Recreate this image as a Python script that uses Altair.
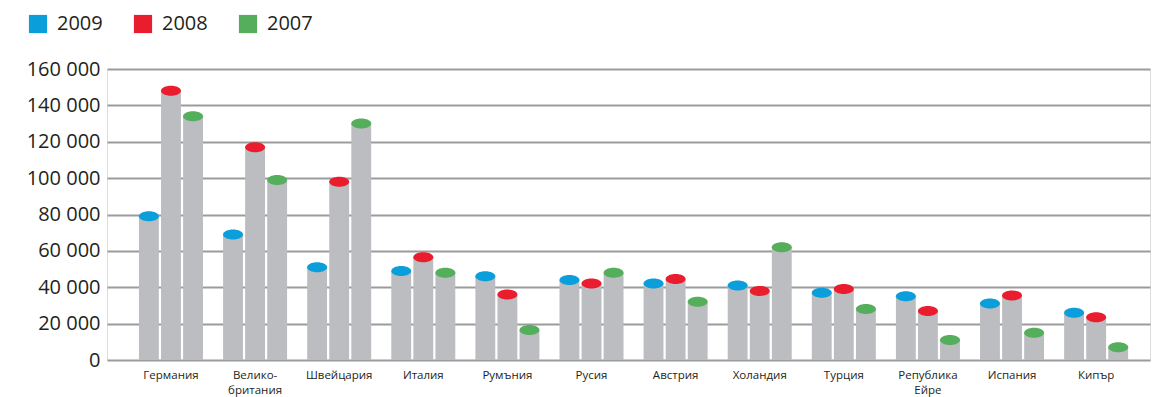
import altair as alt
import pandas as pd

categories = ["Германия", "Велико-|британия", "Швейцария", "Италия", "Румъния", "Русия",
              "Австрия", "Холандия", "Турция", "Република|Ейре", "Испания", "Кипър"]
v2009 = [79000, 69000, 51000, 49000, 46000, 44000, 42000, 41000, 37000, 35000, 31000, 26000]
v2008 = [148000, 117000, 98000, 56500, 36000, 42000, 44500, 38000, 39000, 27000, 35500, 23500]
v2007 = [134000, 99000, 130000, 48000, 16500, 48000, 32000, 62000, 28000, 11000, 15000, 7000]
years = ["2009", "2008", "2007"]
colors = ["#0a9fdb", "#e91d2d", "#55ae5c"]
y_ticks = [0, 20000, 40000, 60000, 80000, 100000, 120000, 140000, 160000]

rows = []
for i, c in enumerate(categories):
    for y, vals in zip(years, [v2009, v2008, v2007]):
        rows.append({"country": c, "year": y, "value": vals[i]})
df = pd.DataFrame(rows)

W, H = 1043, 291
FONT = "Open Sans"

x = alt.X("country:N", sort=categories,
          scale=alt.Scale(paddingInner=0.239, paddingOuter=0.32, align=0.594),
          axis=alt.Axis(title=None, labelAngle=0, domain=False, ticks=False,
                        labelExpr="split(datum.label, '|')", labelFont=FONT,
                        labelFontSize=11.5, labelColor="#231f20", labelPadding=9,
                        labelLineHeight=15, labelBaseline="top", labelOverlap=False))
xo = alt.XOffset("year:N", sort=years, scale=alt.Scale(paddingInner=0.1, paddingOuter=0))
yaxis = alt.Axis(title=None, values=y_ticks, tickCount=9,
                 labelExpr="replace(format(datum.value, ','), ',', ' ')",
                 labelFont=FONT, labelFontSize=20, labelColor="#231f20",
                 labelPadding=7, ticks=False, domain=False, labelOverlap=False,
                 labelFlush=False,
                 gridColor="#9b9b9b", gridWidth=2, gridOpacity=1)
yenc = alt.Y("value:Q", scale=alt.Scale(domain=[0, 160000], nice=False), axis=yaxis)

bars = alt.Chart(df).mark_bar(color="#bcbdc0").encode(x=x, xOffset=xo, y=yenc)

caps = alt.Chart(df).mark_point(
    filled=True, opacity=1, size=400,
    shape="M-1,0 A1,0.5 0 1,0 1,0 A1,0.5 0 1,0 -1,0 Z"
).encode(
    x=x, xOffset=xo, y=yenc,
    color=alt.Color("year:N", sort=years,
                    scale=alt.Scale(domain=years, range=colors),
                    legend=alt.Legend(title=None, orient="none", direction="horizontal",
                                      legendX=-79, legendY=-55, symbolType="square",
                                      symbolSize=330, symbolStrokeWidth=0, symbolOpacity=1,
                                      labelFont=FONT, labelFontSize=20, labelColor="#231f20",
                                      labelOffset=9, columnPadding=30, padding=0))
)

chart = alt.layer(bars, caps).properties(
    width=W, height=H,
    autosize=alt.AutoSizeParams(type="none"),
    padding={"left": 107, "top": 69, "right": 10, "bottom": 37},
).configure_view(stroke=None).configure(background="white")

chart.save("out.html", embed_options={"renderer": "svg", "actions": False})
